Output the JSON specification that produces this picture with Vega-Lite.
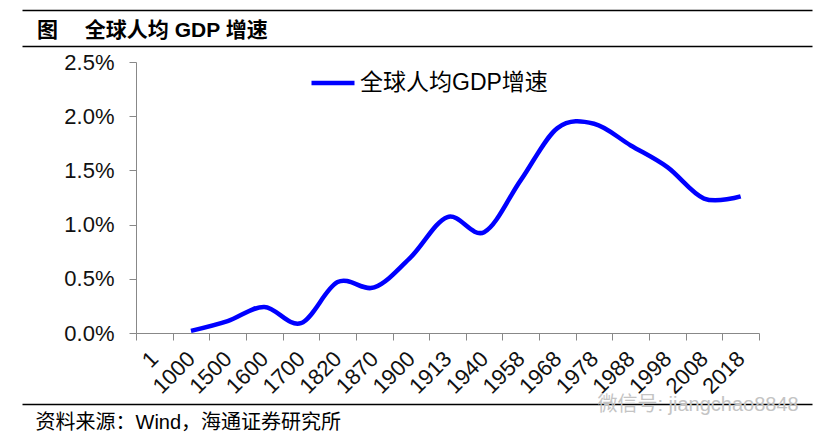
{
  "$schema": "https://vega.github.io/schema/vega-lite/v6.json",
  "width": 790,
  "height": 394,
  "autosize": {"type": "none"},
  "padding": {"left": 22, "top": 10, "right": 15, "bottom": 37},
  "background": "white",
  "title": {
    "text": "图　 全球人均 GDP 增速",
    "anchor": "start",
    "frame": "group",
    "orient": "top",
    "offset": -26,
    "dx": 15,
    "dy": 22,
    "baseline": "alphabetic",
    "fontSize": 21,
    "fontWeight": "bold",
    "color": "#000000"
  },
  "data": {
    "values": [
      {"year": "1", "value": null, "series": "全球人均GDP增速"},
      {"year": "1000", "value": 0.0002, "series": "全球人均GDP增速"},
      {"year": "1500", "value": 0.0011, "series": "全球人均GDP增速"},
      {"year": "1600", "value": 0.0024, "series": "全球人均GDP增速"},
      {"year": "1700", "value": 0.0009, "series": "全球人均GDP增速"},
      {"year": "1820", "value": 0.0047, "series": "全球人均GDP增速"},
      {"year": "1870", "value": 0.0042, "series": "全球人均GDP增速"},
      {"year": "1900", "value": 0.0070, "series": "全球人均GDP增速"},
      {"year": "1913", "value": 0.0107, "series": "全球人均GDP增速"},
      {"year": "1940", "value": 0.0093, "series": "全球人均GDP增速"},
      {"year": "1958", "value": 0.0141, "series": "全球人均GDP增速"},
      {"year": "1968", "value": 0.0189, "series": "全球人均GDP增速"},
      {"year": "1978", "value": 0.0193, "series": "全球人均GDP增速"},
      {"year": "1988", "value": 0.0173, "series": "全球人均GDP增速"},
      {"year": "1998", "value": 0.0153, "series": "全球人均GDP增速"},
      {"year": "2008", "value": 0.0124, "series": "全球人均GDP增速"},
      {"year": "2018", "value": 0.0126, "series": "全球人均GDP增速"}
    ]
  },
  "layer": [
    {
      "mark": {"type": "line", "strokeWidth": 4.5, "interpolate": "cardinal"},
      "encoding": {
        "x": {
          "field": "year",
          "type": "ordinal",
          "bandPosition": 0.5,
          "scale": {
            "type": "band",
            "domain": ["1", "1000", "1500", "1600", "1700", "1820", "1870", "1900", "1913", "1940", "1958", "1968", "1978", "1988", "1998", "2008", "2018"],
            "range": [114, 737],
            "paddingInner": 0,
            "paddingOuter": 0
          },
          "axis": {
            "orient": "bottom",
            "offset": -71,
            "labelAngle": -45,
            "labelAlign": "right",
            "labelBaseline": "middle",
            "labelPadding": 15,
            "labelFontSize": 22,
            "labelColor": "#111111",
            "tickBand": "extent",
            "tickSize": 7,
            "tickColor": "#888888",
            "domainColor": "#888888",
            "grid": false,
            "title": "资料来源：Wind，海通证券研究所",
            "titleX": 13,
            "titleY": 89,
            "titleAlign": "left",
            "titleAnchor": "start",
            "titleBaseline": "middle",
            "titleFontSize": 20,
            "titleFontWeight": "normal",
            "titleColor": "#000000"
          }
        },
        "y": {
          "field": "value",
          "type": "quantitative",
          "scale": {"domain": [0, 0.025], "range": [323, 52], "nice": false, "zero": true},
          "axis": {
            "orient": "left",
            "offset": -114,
            "values": [0, 0.005, 0.01, 0.015, 0.02, 0.025],
            "format": ".1%",
            "labelFontSize": 22,
            "labelColor": "#111111",
            "labelPadding": 15,
            "tickSize": 7,
            "tickColor": "#888888",
            "domainColor": "#888888",
            "grid": false,
            "title": null
          }
        },
        "color": {
          "field": "series",
          "type": "nominal",
          "scale": {"range": ["#0000FF"]},
          "legend": {
            "orient": "none",
            "legendX": 287,
            "legendY": 49,
            "title": null,
            "padding": 0,
            "symbolType": "stroke",
            "symbolSize": 1849,
            "symbolStrokeWidth": 4.5,
            "labelOffset": 3,
            "labelFontSize": 23,
            "labelColor": "#000000",
            "labelLimit": 400
          }
        }
      }
    },
    {
      "mark": {"type": "point", "opacity": 0},
      "encoding": {
        "y": {
          "field": "value",
          "type": "quantitative",
          "scale": {"domain": [-0.00655, 0.0298], "nice": false, "zero": false},
          "axis": {
            "orient": "left",
            "values": [-0.00655, 0.026476, 0.0298],
            "grid": true,
            "gridColor": "#000000",
            "gridWidth": 1.5,
            "gridOpacity": 1,
            "domain": false,
            "ticks": false,
            "labels": false,
            "title": "微信号: jiangchao8848",
            "titleAngle": 0,
            "titleX": 575,
            "titleY": 394,
            "titleAlign": "left",
            "titleBaseline": "middle",
            "titleFontSize": 20,
            "titleFontWeight": "normal",
            "titleColor": "#c4c4c4"
          }
        }
      }
    }
  ],
  "resolve": {"scale": {"y": "independent"}, "axis": {"y": "independent"}},
  "config": {
    "font": "Liberation Sans, Noto Sans CJK SC",
    "view": {"stroke": null},
    "axis": {"grid": false}
  }
}
